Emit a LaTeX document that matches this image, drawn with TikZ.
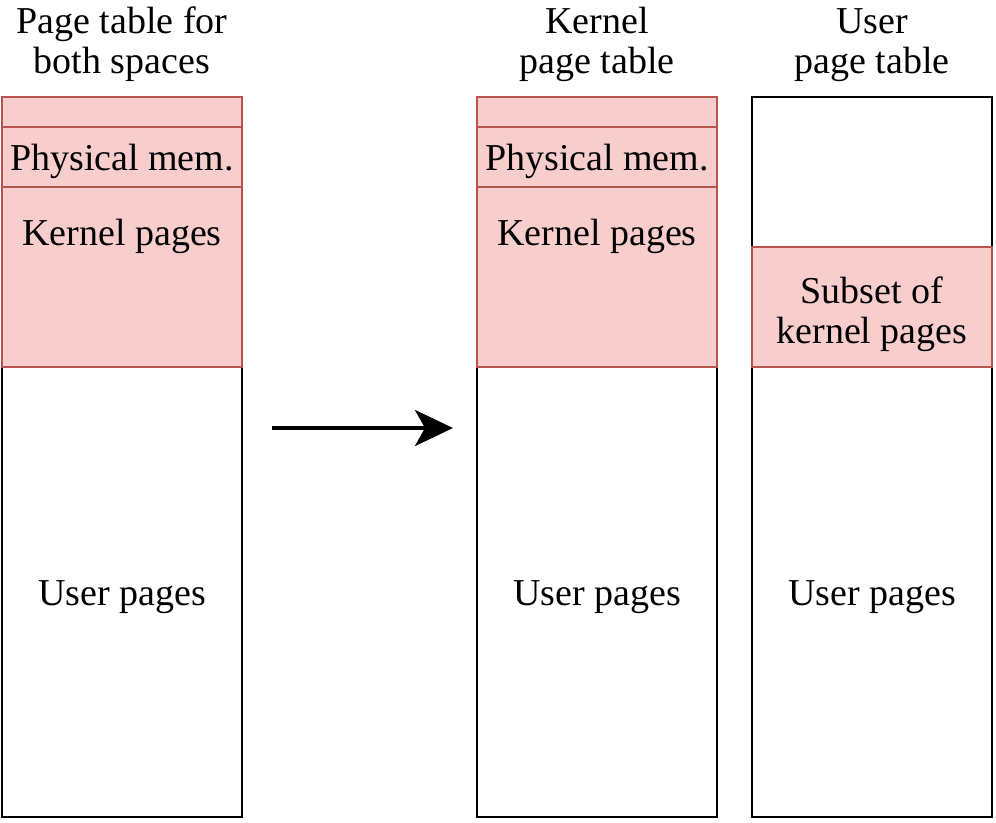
\documentclass[tikz,border=0pt]{standalone}
\usepackage{fontspec}
\setmainfont{Liberation Serif}
\usetikzlibrary{arrows.meta}
\definecolor{redfill}{HTML}{F8CECC}
\definecolor{redline}{HTML}{B85450}
\tikzset{
  redbox/.style={draw=redline, fill=redfill, line width=2.8pt},
  whitebox/.style={draw=black, fill=white, line width=2.8pt},
  lbl/.style={font=\fontsize{38}{40}\selectfont, inner sep=0pt, anchor=base},
}
\begin{document}
\begin{tikzpicture}[x=1pt,y=-1pt]
\useasboundingbox (0,0) rectangle (996,822);
% left column
\draw[whitebox] (2,367) rectangle (242,817);
\draw[redbox] (2,187) rectangle (242,367);
\draw[redbox] (2,127) rectangle (242,187);
\draw[redbox] (2,97) rectangle (242,127);
% middle column
\draw[whitebox] (477,367) rectangle (717,817);
\draw[redbox] (477,187) rectangle (717,367);
\draw[redbox] (477,127) rectangle (717,187);
\draw[redbox] (477,97) rectangle (717,127);
% right column
\draw[whitebox] (752,97) rectangle (992,247);
\draw[whitebox] (752,367) rectangle (992,817);
\draw[redbox] (752,247) rectangle (992,367);
% titles
\node[lbl] (t1a) at (122,33) {Page table for};
\node[lbl] (t1b) at (122,73) {both spaces};
\node[lbl] (t2a) at (597,33) {Kernel};
\node[lbl] (t2b) at (597,73) {page table};
\node[lbl] (t3a) at (872,33) {User};
\node[lbl] (t3b) at (872,73) {page table};
% labels
\node[lbl] (p1) at (122,170) {Physical mem.};
\node[lbl] (k1) at (122,245) {Kernel pages};
\node[lbl] (u1) at (122,605) {User pages};
\node[lbl] (p2) at (597,170) {Physical mem.};
\node[lbl] (k2) at (597,245) {Kernel pages};
\node[lbl] (u2) at (597,605) {User pages};
\node[lbl] (s3a) at (872,303) {Subset of};
\node[lbl] (s3b) at (872,343) {kernel pages};
\node[lbl] (u3) at (872,605) {User pages};
% arrow
\coordinate (a0) at (272,428);
\coordinate (a1) at (453,428);
\draw[line width=4pt, -{Stealth[length=38pt, width=36pt, inset=10pt]}] (a0) -- (a1);
\end{tikzpicture}
\end{document}
